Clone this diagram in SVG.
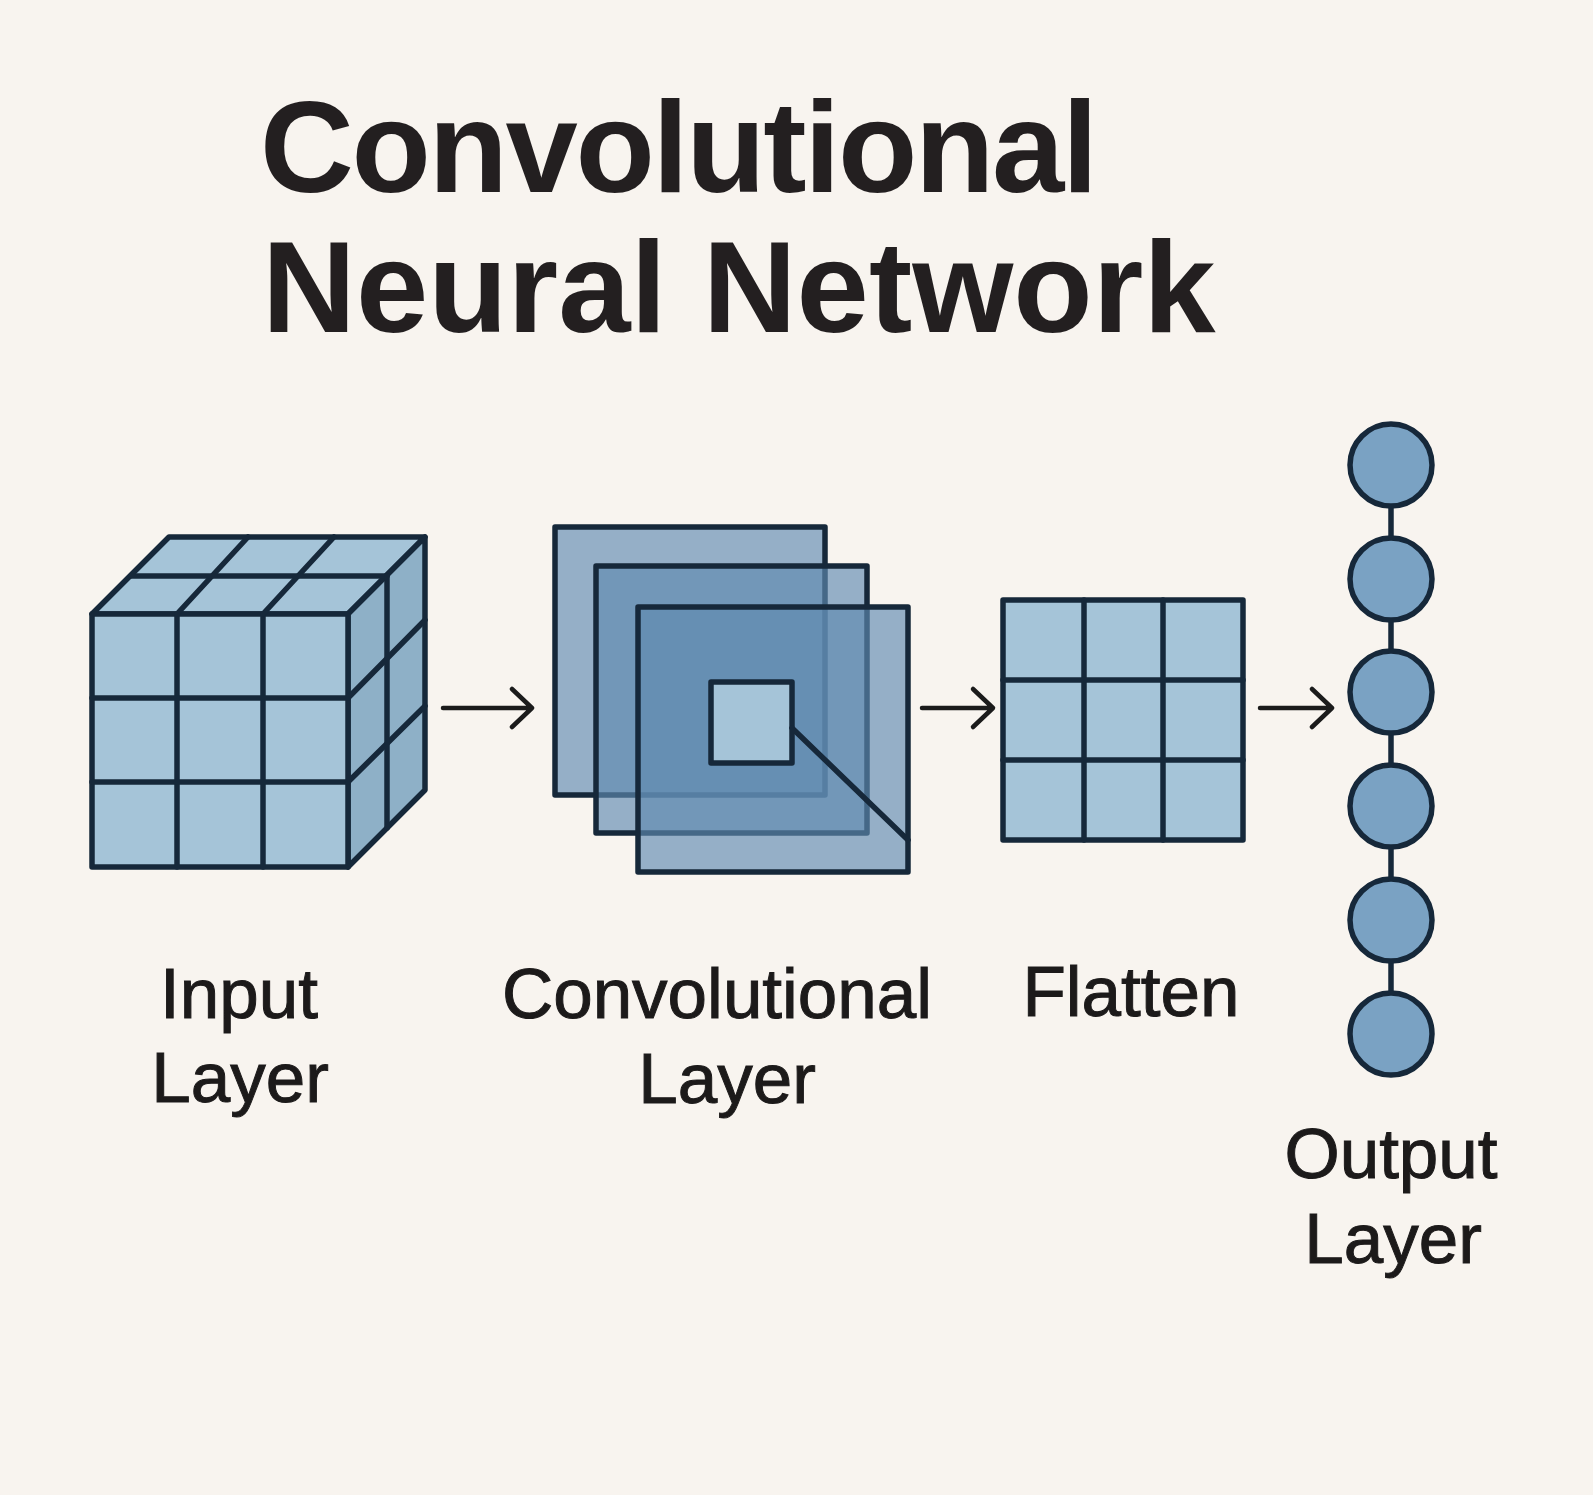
<svg xmlns="http://www.w3.org/2000/svg" width="1593" height="1495" viewBox="0 0 1593 1495">
<style>
.bg{fill:#f8f4ef}
.ln{stroke:#16283a;stroke-width:5.5;stroke-linejoin:round;stroke-linecap:round}
.cf{fill:#a5c4d8}
.cr{fill:#8eb0c7}
.lay{fill:#5f8bb0;fill-opacity:0.65}
.cell{fill:#a5c4d8}
.node{fill:#7aa2c3}
.arr{stroke:#1b1b1b;stroke-width:4.5;fill:none;stroke-linecap:round;stroke-linejoin:round}
.title{font-family:"Liberation Sans",Arial,sans-serif;font-weight:bold;font-size:130px;fill:#231f20}
.lbl{font-family:"Liberation Sans",Arial,sans-serif;font-size:71px;fill:#1c1a1a;stroke:#1c1a1a;stroke-width:1;text-anchor:middle}
</style>
<rect class="bg" x="0" y="0" width="1593" height="1495"/>
<g id="title">
<text class="title" x="260" y="192" textLength="838" lengthAdjust="spacing">Convolutional</text>
<text class="title" x="262" y="332">Neural Network</text>
</g>
<g id="input-layer">
<polygon class="cf ln" points="92,614 348,614 425,537 169,537"/>
<polygon class="cr ln" points="348,614 425,537 425,790 348,867"/>
<rect class="cf ln" x="92" y="614" width="256" height="253"/>
<g class="ln" fill="none">
<line x1="177" y1="614" x2="177" y2="867"/>
<line x1="263" y1="614" x2="263" y2="867"/>
<line x1="92" y1="698" x2="348" y2="698"/>
<line x1="92" y1="782" x2="348" y2="782"/>
<line x1="177" y1="614" x2="248" y2="537"/>
<line x1="263" y1="614" x2="334" y2="537"/>
<line x1="131" y1="576" x2="387" y2="576"/>
<line x1="387" y1="576" x2="387" y2="828"/>
<line x1="348" y1="698" x2="425" y2="620"/>
<line x1="348" y1="782" x2="425" y2="706"/>
</g>
<text class="lbl" x="239" y="1018">Input</text>
<text class="lbl" x="240" y="1102">Layer</text>
</g>
<g id="convolutional-layer">
<rect class="lay ln" x="555" y="527" width="270" height="268"/>
<rect class="lay ln" x="596" y="566" width="271" height="267"/>
<rect class="lay ln" x="638" y="607" width="270" height="265"/>
<rect class="cell ln" x="711" y="682" width="81" height="81"/>
<line class="ln" x1="792" y1="728" x2="908" y2="840"/>
<text class="lbl" x="717" y="1018">Convolutional</text>
<text class="lbl" x="727" y="1103">Layer</text>
</g>
<g id="flatten">
<rect class="cell ln" x="1003" y="600" width="240" height="240"/>
<g class="ln" fill="none">
<line x1="1084" y1="600" x2="1084" y2="840"/>
<line x1="1163" y1="600" x2="1163" y2="840"/>
<line x1="1003" y1="680" x2="1243" y2="680"/>
<line x1="1003" y1="760" x2="1243" y2="760"/>
</g>
<text class="lbl" x="1131" y="1016">Flatten</text>
</g>
<g id="output-layer">
<line class="ln" x1="1391" y1="465" x2="1391" y2="1034"/>
<circle class="node ln" cx="1391" cy="465" r="41"/>
<circle class="node ln" cx="1391" cy="579" r="41"/>
<circle class="node ln" cx="1391" cy="692" r="41"/>
<circle class="node ln" cx="1391" cy="806" r="41"/>
<circle class="node ln" cx="1391" cy="920" r="41"/>
<circle class="node ln" cx="1391" cy="1034" r="41"/>
<text class="lbl" x="1391" y="1178">Output</text>
<text class="lbl" x="1393" y="1263">Layer</text>
</g>
<g id="connectors">
<path class="arr" d="M443,708 H532 M512,689 L532,708 L512,727"/>
<path class="arr" d="M922,708 H993 M973,689 L993,708 L973,727"/>
<path class="arr" d="M1260,708 H1332 M1312,689 L1332,708 L1312,727"/>
</g>
</svg>
